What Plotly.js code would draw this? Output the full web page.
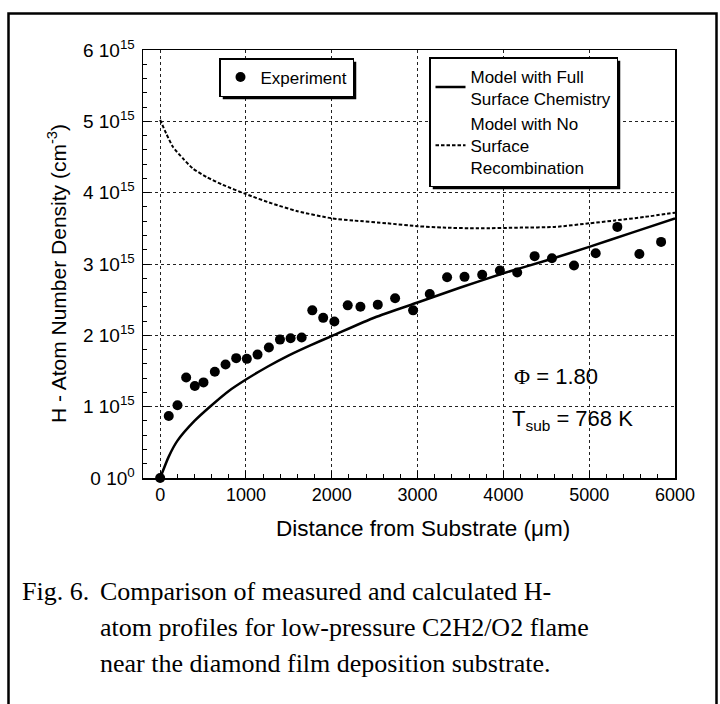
<!DOCTYPE html>
<html>
<head>
<meta charset="utf-8">
<script src="https://cdn.plot.ly/plotly-3.0.1.min.js"></script>
<style>html,body{margin:0;padding:0;background:#fff;}#chart{width:720px;height:704px;}</style>
</head>
<body>
<div id="chart"></div>
<script>
// Experimental H-atom density (units of 1e15 cm^-3) vs distance (um)
const expX = [0, 100, 202, 303, 404, 505, 637, 762, 886, 1010, 1135, 1267, 1396, 1520, 1649, 1773, 1900, 2030, 2186, 2334, 2536, 2738, 2948, 3142, 3344, 3547, 3753, 3959, 4161, 4364, 4566, 4823, 5076, 5328, 5585, 5838];
const expY = [0, 0.87, 1.02, 1.41, 1.29, 1.34, 1.49, 1.59, 1.68, 1.67, 1.73, 1.83, 1.94, 1.96, 1.97, 2.35, 2.245, 2.195, 2.42, 2.40, 2.43, 2.52, 2.35, 2.58, 2.815, 2.82, 2.85, 2.91, 2.88, 3.11, 3.08, 2.98, 3.15, 3.52, 3.14, 3.31];

// Model with full surface chemistry
const fullX = [0, 100, 200, 400, 600, 800, 1000, 1250, 1500, 1750, 2000, 2500, 3000, 3500, 4000, 4500, 5000, 5500, 6000];
const fullY = [0, 0.30, 0.52, 0.80, 1.02, 1.22, 1.38, 1.56, 1.72, 1.86, 1.99, 2.25, 2.46, 2.67, 2.87, 3.05, 3.24, 3.44, 3.64];

// Model with no surface recombination
const noRecX = [0, 70, 150, 265, 380, 540, 730, 1000, 1300, 1600, 2000, 2250, 2650, 3000, 3300, 3700, 4200, 4600, 5000, 5300, 5650, 6000];
const noRecY = [5.02, 4.83, 4.64, 4.48, 4.34, 4.22, 4.11, 3.98, 3.85, 3.74, 3.64, 3.61, 3.57, 3.53, 3.51, 3.50, 3.51, 3.52, 3.57, 3.61, 3.66, 3.72];

const yTickVals = [0, 1, 2, 3, 4, 5, 6];
const yTickText = ['0 10<sup>0</sup>', '1 10<sup>15</sup>', '2 10<sup>15</sup>', '3 10<sup>15</sup>', '4 10<sup>15</sup>', '5 10<sup>15</sup>', '6 10<sup>15</sup>'];
const xTickVals = [0, 1000, 2000, 3000, 4000, 5000, 6000];

const scale = 1e15;
const sans = 'Liberation Sans, Arial, sans-serif';
const serif = 'Liberation Serif, Times New Roman, serif';

const traces = [
  {x: expX, y: expY.map(v => v * scale), mode: 'markers', type: 'scatter', name: 'Experiment',
   marker: {symbol: 'circle', size: 10, color: '#000'}, cliponaxis: false, legend: 'legend', showlegend: true},
  {x: fullX, y: fullY.map(v => v * scale), mode: 'lines', type: 'scatter', name: 'Model with Full<br>Surface Chemistry',
   line: {color: '#000', width: 2.5, shape: 'spline', smoothing: 0.6}, cliponaxis: false, legend: 'legend2', showlegend: true},
  {x: noRecX, y: noRecY.map(v => v * scale), mode: 'lines', type: 'scatter', name: 'Model with No<br>Surface<br>Recombination',
   line: {color: '#000', width: 2, dash: '3.5px,2px', shape: 'spline', smoothing: 0.6}, legend: 'legend2', showlegend: true}
];

// pixel helpers for paper-coordinates of decorations
const L = 143, R = 45, T = 50, B = 226, W = 720, H = 704;
const pw = W - L - R, ph = H - T - B;
const px = p => (p - L) / pw;
const py = p => (H - B - p) / ph;

const legendFont = {size: 17, family: sans, color: '#000'};

const layout = {
  width: W, height: H,
  margin: {l: L, r: R, t: T, b: B},
  paper_bgcolor: '#fff', plot_bgcolor: '#fff',
  font: {family: sans, color: '#000', size: 18},
  showlegend: true,
  xaxis: {
    range: [-200, 6000], tickvals: xTickVals, ticks: 'inside', ticklen: 7, tickwidth: 1, tickcolor: '#000',
    showline: true, linecolor: '#000', linewidth: 1.5, mirror: true, zeroline: false,
    showgrid: true, gridcolor: '#222', griddash: 'dot', gridwidth: 1,
    minor: {dtick: 200, ticks: 'inside', ticklen: 4, tickcolor: '#000', showgrid: false},
    tickfont: {size: 18, family: sans}
  },
  yaxis: {
    range: [0, 6 * scale], tickvals: yTickVals.map(v => v * scale), ticktext: yTickText,
    ticks: 'inside', ticklen: 7, tickwidth: 1, tickcolor: '#000',
    showline: true, linecolor: '#000', linewidth: 1.5, mirror: true, zeroline: false,
    showgrid: true, gridcolor: '#222', griddash: 'dot', gridwidth: 1,
    minor: {dtick: 0.2 * scale, ticks: 'inside', ticklen: 4, tickcolor: '#000', showgrid: false},
    tickfont: {size: 19, family: sans}, ticklabelstandoff: 3
  },
  legend: {
    x: px(219), y: py(58), xanchor: 'left', yanchor: 'top',
    bgcolor: '#fff', bordercolor: '#000', borderwidth: 1.5, font: legendFont
  },
  legend2: {
    x: px(429), y: py(57), xanchor: 'left', yanchor: 'top',
    bgcolor: '#fff', bordercolor: '#000', borderwidth: 1.5, font: legendFont
  },
  shapes: [
    // outer frame
    {type: 'rect', xref: 'paper', yref: 'paper', x0: px(8.5), x1: px(716.5), y0: py(712), y1: py(13.5),
     line: {color: '#000', width: 2.5}, fillcolor: 'rgba(0,0,0,0)', layer: 'below'}
  ],
  annotations: [
    // axis titles
    {x: px(423), y: py(528), xref: 'paper', yref: 'paper', xanchor: 'center', yanchor: 'middle', showarrow: false,
     text: 'Distance from Substrate (μm)', font: {size: 22.5, family: sans, color: '#000'}},
    {x: px(57), y: py(274), xref: 'paper', yref: 'paper', xanchor: 'center', yanchor: 'middle', showarrow: false,
     textangle: -90, text: 'H - Atom Number Density (cm<sup>-3</sup>)', font: {size: 21, family: sans, color: '#000'}},
    // in-plot labels
    {x: 4098, y: 1.42 * scale, xref: 'x', yref: 'y', xanchor: 'left', yanchor: 'middle', showarrow: false,
     text: '<span style="font-family:Liberation Serif">Φ</span> = 1.80', font: {size: 22, family: sans, color: '#000'}},
    {x: 4075, y: 0.82 * scale, xref: 'x', yref: 'y', xanchor: 'left', yanchor: 'middle', showarrow: false,
     text: 'T<sub>sub</sub> = 768 K', font: {size: 22, family: sans, color: '#000'}},
    // caption
    {x: px(20), y: py(591), xref: 'paper', yref: 'paper', xanchor: 'left', yanchor: 'middle', showarrow: false,
     text: 'Fig. 6.', font: {size: 26, family: serif, color: '#000'}},
    {x: px(98), y: py(591), xref: 'paper', yref: 'paper', xanchor: 'left', yanchor: 'middle', showarrow: false,
     text: 'Comparison of measured and calculated H-', font: {size: 26, family: serif, color: '#000'}},
    {x: px(98), y: py(627), xref: 'paper', yref: 'paper', xanchor: 'left', yanchor: 'middle', showarrow: false,
     text: 'atom profiles for low-pressure C2H2/O2 flame', font: {size: 26, family: serif, color: '#000'}},
    {x: px(98), y: py(663), xref: 'paper', yref: 'paper', xanchor: 'left', yanchor: 'middle', showarrow: false,
     text: 'near the diamond film deposition substrate.', font: {size: 26, family: serif, color: '#000'}}
  ]
};

const gd = document.getElementById('chart');
Plotly.newPlot(gd, traces, layout, {displayModeBar: false, staticPlot: true}).then(() => {
  // drop shadows behind the two legend boxes, sized from the drawn legends
  const host = gd.getBoundingClientRect();
  const shadows = [];
  ['legend', 'legend2'].forEach(id => {
    const bg = gd.querySelector('g.' + id + ' rect.bg');
    if (!bg) return;
    const r = bg.getBoundingClientRect();
    const off = 3;
    shadows.push({type: 'rect', xref: 'paper', yref: 'paper', layer: 'above',
      x0: px(r.left - host.left + off), x1: px(r.right - host.left + off),
      y0: py(r.bottom - host.top + off), y1: py(r.top - host.top + off),
      line: {width: 0}, fillcolor: '#000'});
  });
  return Plotly.relayout(gd, {shapes: layout.shapes.concat(shadows)});
});
</script>
</body>
</html>
